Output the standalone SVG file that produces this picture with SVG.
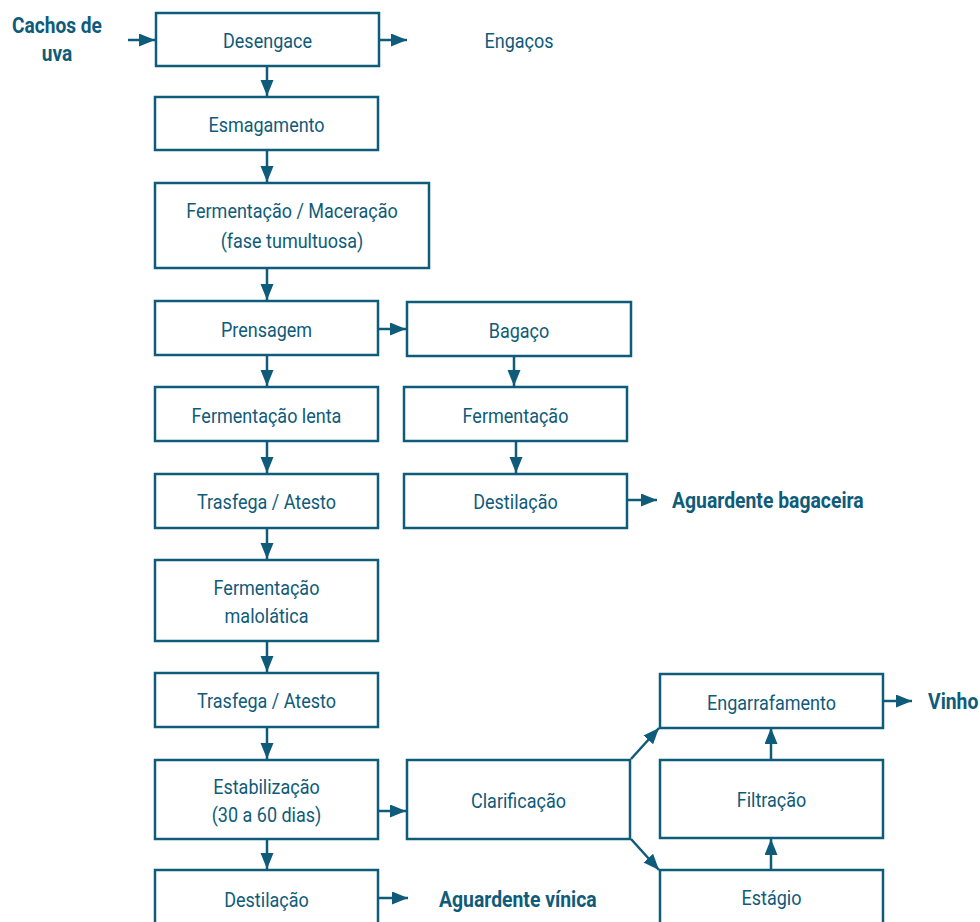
<svg xmlns="http://www.w3.org/2000/svg" width="980" height="922" viewBox="0 0 980 922">
<defs>
<marker id="ah" markerUnits="userSpaceOnUse" markerWidth="17" markerHeight="14" refX="16" refY="6.5" orient="auto">
<path d="M0,0 L16,6.5 L0,13 z" fill="#0f5b7a"/>
</marker>
<style>
.box{fill:#fff;stroke:#0f5b7a;stroke-width:2.5}
.t{font-family:Roboto,"Liberation Sans",sans-serif;font-size:20px;fill:#0f5b7a;text-anchor:middle}
.b{font-family:Roboto,"Liberation Sans",sans-serif;font-size:22px;font-weight:bold;fill:#0f5b7a}
.c line{stroke:#0f5b7a;stroke-width:2.5;marker-end:url(#ah)}
</style>
</defs>
<rect width="980" height="922" fill="#fff"/>
<g class="c" id="connectors">
<line x1="128" y1="40" x2="155" y2="40"/>
<line x1="380" y1="40" x2="407" y2="40"/>
<line x1="267" y1="66" x2="267" y2="96"/>
<line x1="267" y1="150" x2="267" y2="182"/>
<line x1="267" y1="268" x2="267" y2="300"/>
<line x1="378" y1="329" x2="406" y2="329"/>
<line x1="267" y1="355" x2="267" y2="386"/>
<line x1="267" y1="442" x2="267" y2="473"/>
<line x1="267" y1="528" x2="267" y2="559"/>
<line x1="267" y1="641" x2="267" y2="672"/>
<line x1="267" y1="727" x2="267" y2="759"/>
<line x1="267" y1="839" x2="267" y2="869"/>
<line x1="378" y1="811" x2="406" y2="811"/>
<line x1="378" y1="898" x2="408" y2="898"/>
<line x1="514" y1="356" x2="514" y2="386"/>
<line x1="516" y1="442" x2="516" y2="473"/>
<line x1="628" y1="500" x2="657" y2="500"/>
<line x1="631" y1="759" x2="659" y2="728"/>
<line x1="631" y1="839" x2="659" y2="870"/>
<line x1="771" y1="870" x2="771" y2="839"/>
<line x1="771" y1="759" x2="771" y2="728"/>
<line x1="883" y1="701" x2="912" y2="701"/>
</g>
<g id="n-desengace"><rect class="box" x="156" y="13" width="223" height="53"/><text class="t" transform="translate(267.5 48) scale(0.9 1)">Desengace</text></g>
<g id="n-esmagamento"><rect class="box" x="155" y="97" width="223" height="53"/><text class="t" transform="translate(266.5 132) scale(0.9 1)">Esmagamento</text></g>
<g id="n-fermmac"><rect class="box" x="155" y="183" width="274" height="85"/><text class="t" transform="translate(292 218) scale(0.9 1)">Fermentação / Maceração</text><text class="t" transform="translate(292 248) scale(0.9 1)">(fase tumultuosa)</text></g>
<g id="n-prensagem"><rect class="box" x="155" y="301" width="223" height="54"/><text class="t" transform="translate(266.5 337) scale(0.9 1)">Prensagem</text></g>
<g id="n-bagaco"><rect class="box" x="407" y="302" width="224" height="54"/><text class="t" transform="translate(519 338) scale(0.9 1)">Bagaço</text></g>
<g id="n-fermlenta"><rect class="box" x="155" y="387" width="223" height="54"/><text class="t" transform="translate(266.5 423) scale(0.9 1)">Fermentação lenta</text></g>
<g id="n-ferm"><rect class="box" x="404" y="387" width="223" height="54"/><text class="t" transform="translate(515.5 423) scale(0.9 1)">Fermentação</text></g>
<g id="n-trasfega1"><rect class="box" x="155" y="474" width="223" height="54"/><text class="t" transform="translate(266.5 509) scale(0.9 1)">Trasfega / Atesto</text></g>
<g id="n-destilacao1"><rect class="box" x="404" y="474" width="223" height="54"/><text class="t" transform="translate(515.5 509) scale(0.9 1)">Destilação</text></g>
<g id="n-malolatica"><rect class="box" x="155" y="560" width="223" height="81"/><text class="t" transform="translate(266.5 595) scale(0.9 1)">Fermentação</text><text class="t" transform="translate(266.5 623) scale(0.9 1)">malolática</text></g>
<g id="n-trasfega2"><rect class="box" x="155" y="673" width="223" height="54"/><text class="t" transform="translate(266.5 708) scale(0.9 1)">Trasfega / Atesto</text></g>
<g id="n-estab"><rect class="box" x="155" y="760" width="223" height="79"/><text class="t" transform="translate(266.5 794) scale(0.9 1)">Estabilização</text><text class="t" transform="translate(266.5 822) scale(0.9 1)">(30 a 60 dias)</text></g>
<g id="n-clarif"><rect class="box" x="407" y="760" width="223" height="79"/><text class="t" transform="translate(518.5 808) scale(0.9 1)">Clarificação</text></g>
<g id="n-destilacao2"><rect class="box" x="155" y="870" width="223" height="62"/><text class="t" transform="translate(266.5 907) scale(0.9 1)">Destilação</text></g>
<g id="n-engarraf"><rect class="box" x="660" y="674" width="223" height="54"/><text class="t" transform="translate(771.5 710) scale(0.9 1)">Engarrafamento</text></g>
<g id="n-filtracao"><rect class="box" x="660" y="760" width="223" height="78"/><text class="t" transform="translate(771.5 807) scale(0.9 1)">Filtração</text></g>
<g id="n-estagio"><rect class="box" x="660" y="870" width="223" height="62"/><text class="t" transform="translate(771.5 905) scale(0.9 1)">Estágio</text></g>
<g id="labels">
<text class="b" text-anchor="middle" transform="translate(57 33) scale(0.87 1)">Cachos de</text>
<text class="b" text-anchor="middle" transform="translate(57 61) scale(0.87 1)">uva</text>
<text class="t" transform="translate(519 48) scale(0.9 1)">Engaços</text>
<text class="b" transform="translate(672 508) scale(0.88 1)">Aguardente bagaceira</text>
<text class="b" transform="translate(439 907) scale(0.88 1)">Aguardente vínica</text>
<text class="b" transform="translate(928 709) scale(0.88 1)">Vinho</text>
</g>
</svg>
